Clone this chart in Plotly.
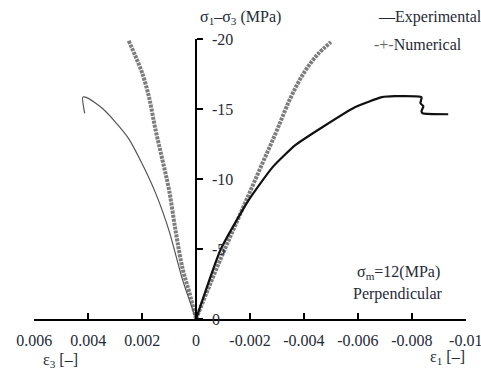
import plotly.graph_objects as go

# --- data ---
# Experimental, epsilon_3 branch (left)
exp3_eps = [0.0, 0.0005, 0.001, 0.0015, 0.002, 0.0025, 0.003, 0.0035, 0.00401, 0.0042, 0.00413]
exp3_sig = [0.0, -2.8, -6.3, -9.0, -11.1, -12.9, -14.1, -15.1, -15.79, -15.86, -14.7]
# Experimental, epsilon_1 branch (right)
exp1_eps = [0.0, -0.00092, -0.00195, -0.00284, -0.00368, -0.00468, -0.00589, -0.00689,
            -0.00737, -0.00836, -0.00832, -0.00843, -0.00836, -0.0084, -0.00935]
exp1_sig = [0.0, -5.0, -8.5, -10.86, -12.43, -13.71, -15.14, -15.86,
            -15.93, -15.86, -15.43, -15.21, -14.86, -14.71, -14.64]
# Numerical, epsilon_3 branch (left)
num3_eps = [0.0, 0.00025, 0.0005, 0.00075, 0.001, 0.00125, 0.0015, 0.00175, 0.002, 0.00225, 0.0025]
num3_sig = [0.0, -1.9, -3.6, -6.2, -9.2, -11.4, -13.5, -15.9, -17.6, -18.8, -19.9]
# Numerical, epsilon_1 branch (right)
num1_eps = [0.0, -0.0005, -0.001, -0.0015, -0.002, -0.0025, -0.003, -0.0035, -0.004, -0.0045, -0.005]
num1_sig = [0.0, -2.4, -4.7, -6.9, -9.1, -11.3, -13.5, -15.8, -17.6, -18.9, -19.8]

x_ticks = [0.006, 0.004, 0.002, 0, -0.002, -0.004, -0.006, -0.008, -0.01]
x_labels = ["0.006", "0.004", "0.002", "0", "-0.002", "-0.004", "-0.006", "-0.008", "-0.01"]
y_ticks = [0, -5, -10, -15, -20]
y_labels = ["0", "-5", "-10", "-15", "-20"]

FONT = "Liberation Serif"
TXT = "#262a36"
W, H = 481, 376
L, R, T, B = 34, 15, 39, 57


def px(xp):
    return (xp - L) / (W - L - R)


def py(yp):
    return (H - B - yp) / (H - T - B)


fig = go.Figure()
num_line = dict(color="#7d7d7d", width=4, dash="3px,1px")
fig.add_trace(go.Scatter(x=num3_eps, y=num3_sig, mode="lines", line=num_line,
                         line_shape="spline", showlegend=False))
fig.add_trace(go.Scatter(x=num1_eps, y=num1_sig, mode="lines", line=num_line,
                         line_shape="spline", showlegend=False))
fig.add_trace(go.Scatter(x=exp3_eps, y=exp3_sig, mode="lines",
                         line=dict(color="#555555", width=1.2, shape="spline", smoothing=0.6),
                         showlegend=False))
fig.add_trace(go.Scatter(x=exp1_eps, y=exp1_sig, mode="lines",
                         line=dict(color="#111111", width=2.2, shape="spline", smoothing=0.5),
                         showlegend=False))

fig.update_layout(
    width=W, height=H,
    margin=dict(l=L, r=R, t=T, b=B, autoexpand=False),
    paper_bgcolor="white", plot_bgcolor="white",
    font=dict(family=FONT, size=16, color=TXT),
    xaxis=dict(range=[0.00601, -0.01001], domain=[0, 1], showgrid=False, zeroline=False,
               showline=True, linecolor="black", linewidth=1.5, automargin=False,
               ticks="inside", ticklen=6, tickcolor="black", tickwidth=1.5,
               tickvals=x_ticks, ticktext=x_labels, ticklabelstandoff=6,
               ticklabeloverflow="allow"),
    yaxis=dict(range=[0, -20.02], showgrid=False, zeroline=False, automargin=False,
               anchor="free", position=0.375, side="right",
               showline=True, linecolor="black", linewidth=1.5,
               ticks="outside", ticklen=6, tickcolor="black", tickwidth=1.5,
               tickvals=y_ticks, ticktext=y_labels, ticklabelstandoff=6),
)

ann = [
    dict(text="σ<sub>1</sub>–σ<sub>3</sub> (MPa)", x=px(240), y=py(17)),
    dict(text="ε<sub>3</sub> [–]", x=px(60), y=py(360)),
    dict(text="ε<sub>1</sub> [–]", x=px(447), y=py(357)),
    dict(text="σ<sub>m</sub>=12(MPa)", x=px(398), y=py(272)),
    dict(text="Perpendicular", x=px(398), y=py(294)),
]
for a in ann:
    fig.add_annotation(xref="paper", yref="paper", showarrow=False,
                       xanchor="center", yanchor="middle",
                       font=dict(family=FONT, size=16, color=TXT), **a)
# legend drawn as text items
fig.add_annotation(xref="paper", yref="paper", showarrow=False, xanchor="left", yanchor="middle",
                   x=px(376), y=py(17),
                   text="—Experimental", font=dict(family=FONT, size=16, color=TXT))
fig.add_annotation(xref="paper", yref="paper", showarrow=False, xanchor="left", yanchor="middle",
                   x=px(372), y=py(44),
                   text="<span style='color:#666'>-+-</span>Numerical",
                   font=dict(family=FONT, size=16, color=TXT))

fig.write_html("out.html")
